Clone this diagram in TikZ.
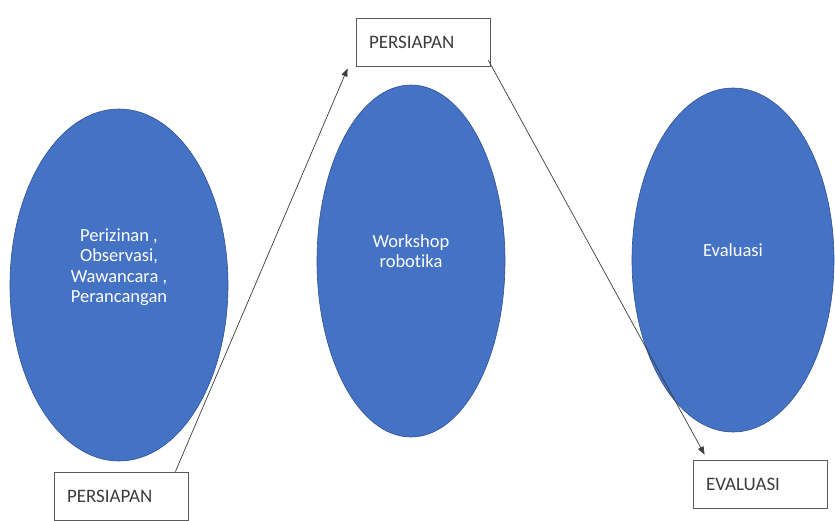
\documentclass[tikz,border=0pt]{standalone}
\usepackage{fontspec}
\setmainfont{Carlito}[Ligatures=NoCommon]
\usetikzlibrary{arrows.meta,shapes.geometric}
\definecolor{wordblue}{RGB}{68, 114, 196}
\definecolor{wordbluedark}{RGB}{47, 82, 143}
\definecolor{boxgray}{RGB}{90, 90, 90}
\definecolor{textgray}{RGB}{60, 60, 60}

\begin{document}
\begin{tikzpicture}[x=1pt, y=-1pt,
    tahap/.style={ellipse, fill=wordblue, draw=wordbluedark, line width=0.6pt, inner sep=0pt},
    tahapteks/.style={text=white, align=center, font=\fontsize{18.5}{20.5}\selectfont},
    kotak/.style={draw=boxgray, line width=0.8pt, minimum width=134, minimum height=48,
                  text width=108, align=left, inner sep=0pt, text=textgray,
                  font=\fontsize{19}{22}\selectfont},
    panah/.style={-{Triangle[length=8pt, width=6pt]}, line width=0.7pt, color=textgray}]
            \fill[white]                                                  (0, 0) rectangle (835, 520);
            % three stages
            \node[tahap, minimum width=218, minimum height=352] (kiri)   at (119, 285) {};
            \node[tahap, minimum width=188, minimum height=352] (tengah) at (411, 261) {};
            \node[tahap, minimum width=202, minimum height=344] (kanan)  at (733, 260) {};
            \node[tahapteks] (tekskiri)   at ([yshift=18]kiri.center)   {Perizinan ,\\Observasi,\\Wawancara ,\\Perancangan};
            \node[tahapteks] (tekstengah) at ([yshift=10]tengah.center) {Workshop\\robotika};
            \node[tahapteks] (tekskanan)  at ([yshift=10]kanan.center)  {Evaluasi};
            % text boxes
            \node[kotak] (atas)     at (423, 42)  {PERSIAPAN};
            \node[kotak] (bawah)    at (121, 496) {PERSIAPAN};
            \node[kotak] (evaluasi) at (760, 484) {EVALUASI};
            % arrows
            \draw[panah] ([shift={(-13, 0)}]bawah.north east) -- ([shift={(-8, 2)}]atas.south west);
            \draw[panah] ([shift={(-2, -6)}]atas.south east)  -- ([shift={(12, -5)}]evaluasi.north west);
        \end{tikzpicture}
\end{document}
